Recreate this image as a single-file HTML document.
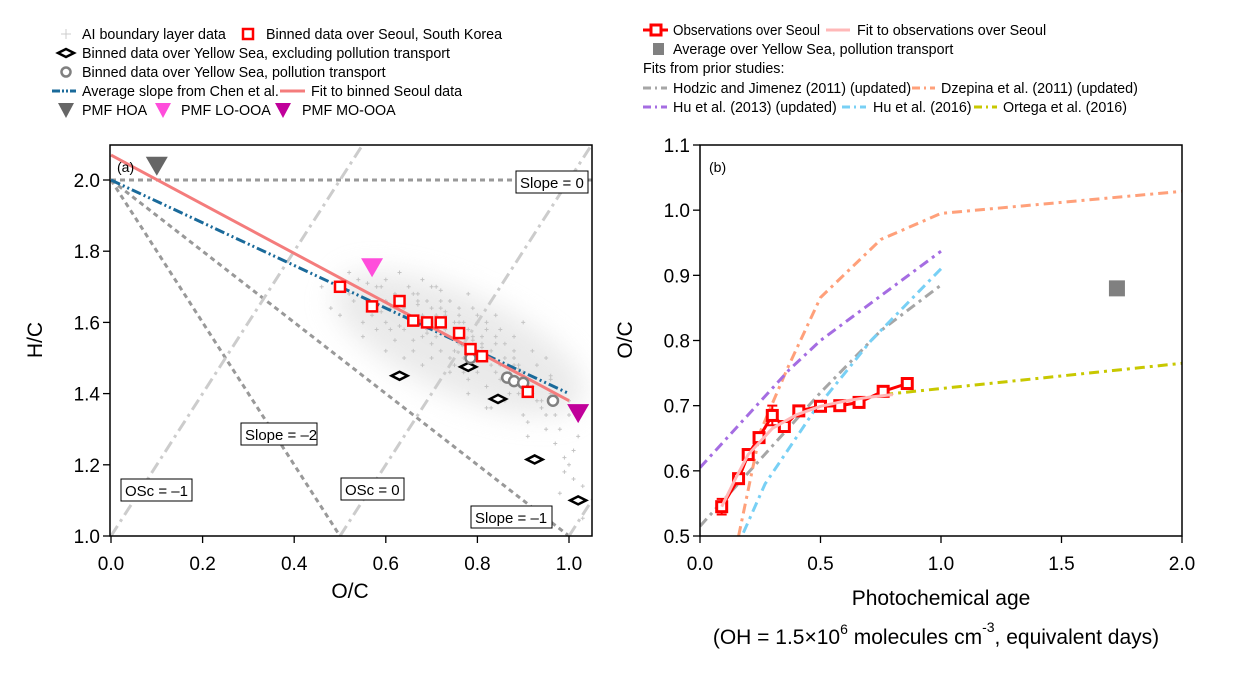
<!DOCTYPE html>
<html><head><meta charset="utf-8">
<style>
html,body{margin:0;padding:0;background:#fff;}
svg{display:block;font-family:"Liberation Sans",Arial,sans-serif;}
</style></head>
<body>
<svg id="chart" width="1257" height="674" viewBox="0 0 1257 674" xmlns="http://www.w3.org/2000/svg"></svg>
<script>
// ---------- Panel (a) data ----------
const seoulOC=[0.50,0.57,0.63,0.66,0.69,0.72,0.76,0.785,0.81,0.91];
const seoulHC=[1.70,1.645,1.66,1.605,1.60,1.60,1.57,1.525,1.505,1.405];
const ysPolOC=[0.785,0.865,0.88,0.90,0.965];
const ysPolHC=[1.50,1.445,1.435,1.43,1.38];
const ysExOC=[0.63,0.78,0.845,0.925,1.02];
const ysExHC=[1.45,1.475,1.385,1.215,1.10];
const pmfNames=['HOA','LO-OOA','MO-OOA'];
const pmfOC=[0.10,0.57,1.02];
const pmfHC=[2.04,1.755,1.345];
const fitSeoulOC=[0,1.0];
const fitSeoulHC=[2.07,1.38];
const chenOC=[0,1.0];
const chenHC=[2.0,1.40];
const xTicksA=[0,0.2,0.4,0.6,0.8,1.0];
const yTicksA=[1.0,1.2,1.4,1.6,1.8,2.0];
const xTickLabelsA=['0.0','0.2','0.4','0.6','0.8','1.0'];
const yTickLabelsA=['1.0','1.2','1.4','1.6','1.8','2.0'];
// background AI data (estimated sample of cloud)
const bgOC=[0.50,0.52,0.54,0.55,0.56,0.58,0.59,0.60,0.61,0.62,0.63,0.64,0.65,0.66,0.67,0.68,0.69,0.70,0.71,0.72,0.73,0.74,0.75,0.76,0.77,0.78,0.79,0.80,0.81,0.82,0.83,0.84,0.85,0.86,0.87,0.88,0.89,0.90,0.92,0.94,0.96,0.98,1.00,1.02,
 0.55,0.58,0.60,0.62,0.64,0.66,0.68,0.70,0.72,0.74,0.76,0.78,0.80,0.82,0.84,0.86,0.88,0.90,0.93,0.95,0.97,
 0.62,0.65,0.67,0.69,0.71,0.73,0.75,0.77,0.79,0.81,0.83,0.85,0.87,0.89,0.91,0.94,0.99,1.01,
 0.60,0.64,0.68,0.72,0.76,0.80,0.84,0.88,0.92,0.96,1.00,0.70,0.74,0.78,0.82,0.86,0.90,0.95,1.03,0.66,0.75,0.83,0.91,0.98,
 0.53,0.57,0.61,0.65,0.69,0.73,0.77,0.81,0.85,0.89,0.93,0.97,1.01,0.59,0.63,0.67,0.71,0.75,0.79,0.83,0.87,0.91,0.95,0.99,
 0.48,0.46,0.52,0.56,0.60,0.64,0.68,0.72,0.76,0.80,0.84,0.88,0.92,0.96,1.00,1.03,0.70,0.74,0.78,0.82];
const bgHC=[1.62,1.68,1.72,1.60,1.66,1.70,1.63,1.72,1.58,1.68,1.74,1.62,1.70,1.55,1.66,1.72,1.58,1.64,1.70,1.52,1.62,1.66,1.56,1.62,1.50,1.58,1.64,1.46,1.56,1.60,1.48,1.54,1.58,1.50,1.44,1.52,1.40,1.46,1.42,1.36,1.40,1.30,1.34,1.28,
 1.56,1.58,1.52,1.55,1.50,1.68,1.48,1.54,1.66,1.50,1.64,1.44,1.60,1.42,1.62,1.38,1.56,1.34,1.48,1.30,1.26,
 1.64,1.62,1.68,1.66,1.62,1.58,1.52,1.46,1.56,1.54,1.50,1.44,1.40,1.48,1.32,1.38,1.22,1.16,
 1.60,1.58,1.56,1.64,1.60,1.62,1.46,1.50,1.52,1.44,1.38,1.70,1.66,1.68,1.58,1.54,1.60,1.50,1.05,1.52,1.48,1.36,1.28,1.12,
 1.66,1.62,1.64,1.61,1.57,1.63,1.60,1.53,1.48,1.47,1.38,1.34,1.24,1.70,1.59,1.65,1.56,1.60,1.55,1.52,1.46,1.44,1.34,1.18,
 1.64,1.70,1.74,1.71,1.66,1.64,1.62,1.69,1.54,1.51,1.56,1.48,1.40,1.45,1.20,1.14,1.50,1.46,1.40,1.36];

// ---------- Panel (b) data ----------
const obsAge=[0.09,0.16,0.20,0.245,0.30,0.35,0.41,0.50,0.58,0.66,0.76,0.86];
const obsOC=[0.545,0.588,0.625,0.651,0.685,0.668,0.692,0.699,0.700,0.705,0.722,0.734];
const obsErr=[0.012,0.008,0.008,0.008,0.015,0.008,0.006,0.006,0.005,0.005,0.006,0.006];
const fitAge=[0.09,0.15,0.20,0.30,0.40,0.50,0.60,0.70,0.80];
const fitOC=[0.545,0.59,0.625,0.665,0.686,0.699,0.707,0.713,0.717];
const ysAvgAge=[1.73];
const ysAvgOC=[0.88];
const hodzicAge=[0,0.5,0.75,1.0];
const hodzicOC=[0.515,0.72,0.815,0.885];
const dzepinaAge=[0.16,0.25,0.36,0.50,0.75,1.0,2.0];
const dzepinaOC=[0.50,0.66,0.755,0.866,0.955,0.995,1.029];
const hu13Age=[0,0.37,0.5,1.0];
const hu13OC=[0.605,0.755,0.80,0.937];
const hu16Age=[0.18,0.27,0.47,0.71,1.0];
const hu16OC=[0.505,0.58,0.69,0.80,0.91];
const ortegaAge=[0.76,2.0];
const ortegaOC=[0.717,0.765];
const xTicksB=[0,0.5,1.0,1.5,2.0];
const xTickLabelsB=['0.0','0.5','1.0','1.5','2.0'];
const yTicksB=[0.5,0.6,0.7,0.8,0.9,1.0,1.1];
const yTickLabelsB=['0.5','0.6','0.7','0.8','0.9','1.0','1.1'];

const NS='http://www.w3.org/2000/svg';
const svg=document.getElementById('chart');
function mk(tag,attrs,parent){const e=document.createElementNS(NS,tag);for(const k in attrs)e.setAttribute(k,attrs[k]);(parent||svg).appendChild(e);return e;}
function txt(s,attrs,parent){const e=mk('text',attrs,parent);e.textContent=s;return e;}

const A={x0:111,x1:569,y0:536,y1:180,left:110,right:592,top:145,bottom:536};
const ax=v=>A.x0+(v-0)*(A.x1-A.x0)/1.0;
const ay=v=>A.y0-(v-1.0)*(A.y0-A.y1)/1.0;
const B={left:700,right:1182,top:145,bottom:536};
const bx=v=>B.left+v*(B.right-B.left)/2.0;
const by=v=>B.bottom-(v-0.5)*(B.bottom-B.top)/0.6;

// ---------- Panel (a) ----------
const ga=mk('g',{});


const defs=mk('defs',{});
const flt=mk('filter',{id:'blur',x:'-50%',y:'-50%',width:'200%',height:'200%'},defs);
mk('feGaussianBlur',{stdDeviation:14},flt);
const clipA=mk('clipPath',{id:'clipA'},defs);mk('rect',{x:A.left,y:A.top,width:A.right-A.left,height:A.bottom-A.top},clipA);
const pa=mk('g',{'clip-path':'url(#clipA)'},ga);
const haze=mk('ellipse',{cx:ax(0.76),cy:ay(1.54),rx:135,ry:50,fill:'#dcdcdc',opacity:0.6,filter:'url(#blur)',transform:`rotate(24 ${ax(0.76)} ${ay(1.54)})`},pa);


for(let i=0;i<bgOC.length;i++){
  const x=ax(bgOC[i]),y=ay(bgHC[i]);
  const p=mk('path',{d:`M${x-2},${y}h4M${x},${y-2}v4`,stroke:'#c4c4c4','stroke-width':1},pa);
  
  
}
function refLine(o1,h1,o2,h2,dash,col,name){
  const l=mk('line',{x1:ax(o1),y1:ay(h1),x2:ax(o2),y2:ay(h2),stroke:col,'stroke-width':3,'stroke-dasharray':dash},pa);
  
  
}
refLine(0,2,1.05,2,'5,4','#999','slope-0-line');
refLine(0,2,1.1,0.9,'5,4','#999','slope-minus1-line');
refLine(0,2,0.55,0.9,'5,4','#999','slope-minus2-line');
refLine(0,1,0.55,2.1,'12,5,3,5','#ccc','osc-minus1-line');
refLine(0.5,1,1.05,2.1,'12,5,3,5','#ccc','osc-0-line');
refLine(1.0,1,1.1,1.2,'12,5,3,5','#ccc','osc-1-line');
let l=mk('line',{x1:ax(chenOC[0]),y1:ay(chenHC[0]),x2:ax(chenOC[1]),y2:ay(chenHC[1]),stroke:'#1a6a9a','stroke-width':3,'stroke-dasharray':'10,3,2,3,2,3'},pa);


l=mk('line',{x1:ax(fitSeoulOC[0]),y1:ay(fitSeoulHC[0]),x2:ax(fitSeoulOC[1]),y2:ay(fitSeoulHC[1]),stroke:'#f47c7c','stroke-width':3},pa);


function box(x,y,w,s,name){
  const g=mk('g',{},ga);
  
  
  mk('rect',{x:x,y:y,width:w,height:22,fill:'#fff',stroke:'#000','stroke-width':1},g);
  txt(s,{x:x+4,y:y+17,'font-size':15,fill:'#000'},g);
}
box(516,171,72,'Slope = 0','slope-0-label');
box(241,423,76,'Slope = \u20132','slope-minus2-label');
box(121,479,71,'OSc = \u20131','osc-minus1-label');
box(341,478,63,'OSc = 0','osc-0-label');
box(471,506,81,'Slope = \u20131','slope-minus1-label');
for(let i=0;i<ysExOC.length;i++){
  const x=ax(ysExOC[i]),y=ay(ysExHC[i]);
  const p=mk('path',{d:`M${x-8},${y}L${x},${y-4}L${x+8},${y}L${x},${y+4}Z`,fill:'#fff',stroke:'#000','stroke-width':2.5},ga);
  
  
}
for(let i=0;i<ysPolOC.length;i++){
  const c=mk('circle',{cx:ax(ysPolOC[i]),cy:ay(ysPolHC[i]),r:5,fill:'#fff',stroke:'#808080','stroke-width':2.5},ga);
  
  
}
for(let i=0;i<seoulOC.length;i++){
  const r=mk('rect',{x:ax(seoulOC[i])-5,y:ay(seoulHC[i])-5,width:10,height:10,fill:'#fff',stroke:'#f00','stroke-width':2.5},ga);
  
  
}
const pmfCols=['#666','#ff4ddb','#c0009a'];
for(let i=0;i<pmfOC.length;i++){
  const x=ax(pmfOC[i]),y=ay(pmfHC[i]);
  const p=mk('path',{d:`M${x-11},${y-9}L${x+11},${y-9}L${x},${y+10}Z`,fill:pmfCols[i]},ga);
  
  
}
mk('rect',{x:A.left,y:A.top,width:A.right-A.left,height:A.bottom-A.top,fill:'none',stroke:'#000','stroke-width':1.5},ga);
txt('(a)',{x:117,y:172,'font-size':14},ga);
xTicksA.forEach((v,i)=>{mk('line',{x1:ax(v),y1:A.bottom,x2:ax(v),y2:A.bottom+7,stroke:'#000','stroke-width':1.3},ga);
  const t=txt(xTickLabelsA[i],{x:ax(v),y:570,'font-size':19,'text-anchor':'middle'},ga);
  });
yTicksA.forEach((v,i)=>{mk('line',{x1:A.left-7,y1:ay(v),x2:A.left,y2:ay(v),stroke:'#000','stroke-width':1.3},ga);
  const t=txt(yTickLabelsA[i],{x:100,y:ay(v)+7,'font-size':19,'text-anchor':'end'},ga);
  });
txt('O/C',{x:350,y:598,'font-size':21,'text-anchor':'middle',},ga);
txt('H/C',{x:0,y:0,'font-size':21,'text-anchor':'middle',transform:'translate(42,340) rotate(-90)',},ga);

// legend a
const la=mk('g',{});
const fs=14.3;
mk('path',{d:'M61,34h10M66,29v10',stroke:'#ccc','stroke-width':1},la);
txt('AI boundary layer data',{x:82,y:39,'font-size':fs},la);
mk('rect',{x:243,y:29,width:10,height:10,fill:'#fff',stroke:'#f00','stroke-width':2.5},la);
txt('Binned data over Seoul, South Korea',{x:266,y:39,'font-size':fs},la);
mk('path',{d:'M58,53L66,49L74,53L66,57Z',fill:'#fff',stroke:'#000','stroke-width':2.5},la);
txt('Binned data over Yellow Sea, excluding pollution transport',{x:82,y:58,'font-size':fs},la);
mk('circle',{cx:66,cy:72,r:4.5,fill:'#fff',stroke:'#808080','stroke-width':2.5},la);
txt('Binned data over Yellow Sea, pollution transport',{x:82,y:77,'font-size':fs},la);
mk('line',{x1:52,y1:91,x2:76,y2:91,stroke:'#1a6a9a','stroke-width':3,'stroke-dasharray':'8,2,2,2,2,2'},la);
txt('Average slope from Chen et al.',{x:82,y:96,'font-size':fs},la);
mk('line',{x1:280,y1:91,x2:305,y2:91,stroke:'#f47c7c','stroke-width':3},la);
txt('Fit to binned Seoul data',{x:311,y:96,'font-size':fs},la);
mk('path',{d:'M58,103L74,103L66,118Z',fill:'#666'},la);
txt('PMF HOA',{x:82,y:115,'font-size':fs},la);
mk('path',{d:'M155,103L171,103L163,118Z',fill:'#ff4ddb'},la);
txt('PMF LO-OOA',{x:181,y:115,'font-size':fs},la);
mk('path',{d:'M275,103L291,103L283,118Z',fill:'#c0009a'},la);
txt('PMF MO-OOA',{x:302,y:115,'font-size':fs},la);

// ---------- Panel (b) ----------
const gb=mk('g',{});
const clipB=mk('clipPath',{id:'clipB'},defs);mk('rect',{x:B.left,y:B.top,width:B.right-B.left,height:B.bottom-B.top},clipB);
const pb=mk('g',{'clip-path':'url(#clipB)'},gb);
function series(xs,ys,col,dash,name,w){
  const d=xs.map((v,i)=>(i?'L':'M')+bx(v).toFixed(1)+','+by(ys[i]).toFixed(1)).join('');
  const p=mk('path',{d:d,fill:'none',stroke:col,'stroke-width':w||3,'stroke-dasharray':dash},pb);
  
  
}
const dd='10,5,3,5';
series(hodzicAge,hodzicOC,'#a6a6a6',dd,'hodzic-fit-line');
series(dzepinaAge,dzepinaOC,'#ffa07a',dd,'dzepina-fit-line');
series(hu13Age,hu13OC,'#a56de2',dd,'hu2013-fit-line');
series(hu16Age,hu16OC,'#78d0f5',dd,'hu2016-fit-line');
series(ortegaAge,ortegaOC,'#c8c800',dd,'ortega-fit-line');
series(obsAge,obsOC,'#f00','','observations-line',3);
for(let i=0;i<obsAge.length;i++){
  const x=bx(obsAge[i]);
  const e=mk('path',{d:`M${x},${by(obsOC[i]-obsErr[i])}V${by(obsOC[i]+obsErr[i])}M${x-5},${by(obsOC[i]-obsErr[i])}h10M${x-5},${by(obsOC[i]+obsErr[i])}h10`,stroke:'#f00','stroke-width':2},pb);
  
  
  const r=mk('rect',{x:x-5,y:by(obsOC[i])-5,width:10,height:10,fill:'#fff',stroke:'#f00','stroke-width':3},pb);
  
  
}
series(fitAge,fitOC,'#ffb8b8','','observations-fit-line',3);
for(let i=0;i<ysAvgAge.length;i++){
  const r=mk('rect',{x:bx(ysAvgAge[i])-8,y:by(ysAvgOC[i])-8,width:16,height:16,fill:'#808080'},pb);
  
  
}
mk('rect',{x:B.left,y:B.top,width:B.right-B.left,height:B.bottom-B.top,fill:'none',stroke:'#000','stroke-width':1.5},gb);
txt('(b)',{x:709,y:172,'font-size':14},gb);
xTicksB.forEach((v,i)=>{mk('line',{x1:bx(v),y1:B.bottom,x2:bx(v),y2:B.bottom+7,stroke:'#000','stroke-width':1.3},gb);
  const t=txt(xTickLabelsB[i],{x:bx(v),y:570,'font-size':19,'text-anchor':'middle'},gb);
  });
yTicksB.forEach((v,i)=>{mk('line',{x1:B.left-7,y1:by(v),x2:B.left,y2:by(v),stroke:'#000','stroke-width':1.3},gb);
  const t=txt(yTickLabelsB[i],{x:690,y:by(v)+7,'font-size':19,'text-anchor':'end'},gb);
  });
txt('O/C',{x:0,y:0,'font-size':21,'text-anchor':'middle',transform:'translate(632,340) rotate(-90)',},gb);
txt('Photochemical age',{x:941,y:605,'font-size':21,'text-anchor':'middle',},gb);
const t2=mk('text',{x:936,y:644,'font-size':21,'text-anchor':'middle',},gb);
t2.innerHTML='(OH = 1.5×10<tspan dy="-10" font-size="14">6</tspan><tspan dy="10"> molecules cm</tspan><tspan dy="-12" font-size="14">-3</tspan><tspan dy="12">, equivalent days)</tspan>';

// legend b
const lb=mk('g',{});
mk('line',{x1:643,y1:30,x2:668,y2:30,stroke:'#f00','stroke-width':3},lb);
mk('rect',{x:651,y:25,width:10,height:10,fill:'#fff',stroke:'#f00','stroke-width':3},lb);
txt('Observations over Seoul',{x:673,y:35,'font-size':fs,textLength:147,lengthAdjust:'spacingAndGlyphs'},lb);
mk('line',{x1:826,y1:30,x2:850,y2:30,stroke:'#ffb8b8','stroke-width':3},lb);
txt('Fit to observations over Seoul',{x:857,y:35,'font-size':fs},lb);
mk('rect',{x:653,y:43,width:11,height:12,fill:'#808080'},lb);
txt('Average over Yellow Sea, pollution transport',{x:673,y:54,'font-size':fs},lb);
txt('Fits from prior studies:',{x:643,y:73,'font-size':fs},lb);
function lgl(x1,x2,y,col){mk('line',{x1:x1,y1:y,x2:x2,y2:y,stroke:col,'stroke-width':3,'stroke-dasharray':'8,4,2,4'},lb);}
lgl(643,667,88,'#a6a6a6');txt('Hodzic and Jimenez (2011) (updated)',{x:673,y:93,'font-size':fs},lb);
lgl(912,935,88,'#ffa07a');txt('Dzepina et al. (2011) (updated)',{x:941,y:93,'font-size':fs},lb);
lgl(643,667,107,'#a56de2');txt('Hu et al. (2013) (updated)',{x:673,y:112,'font-size':fs},lb);
lgl(842,866,107,'#78d0f5');txt('Hu et al. (2016)',{x:873,y:112,'font-size':fs},lb);
lgl(974,997,107,'#c8c800');txt('Ortega et al. (2016)',{x:1003,y:112,'font-size':fs},lb);
</script>
</body></html>
